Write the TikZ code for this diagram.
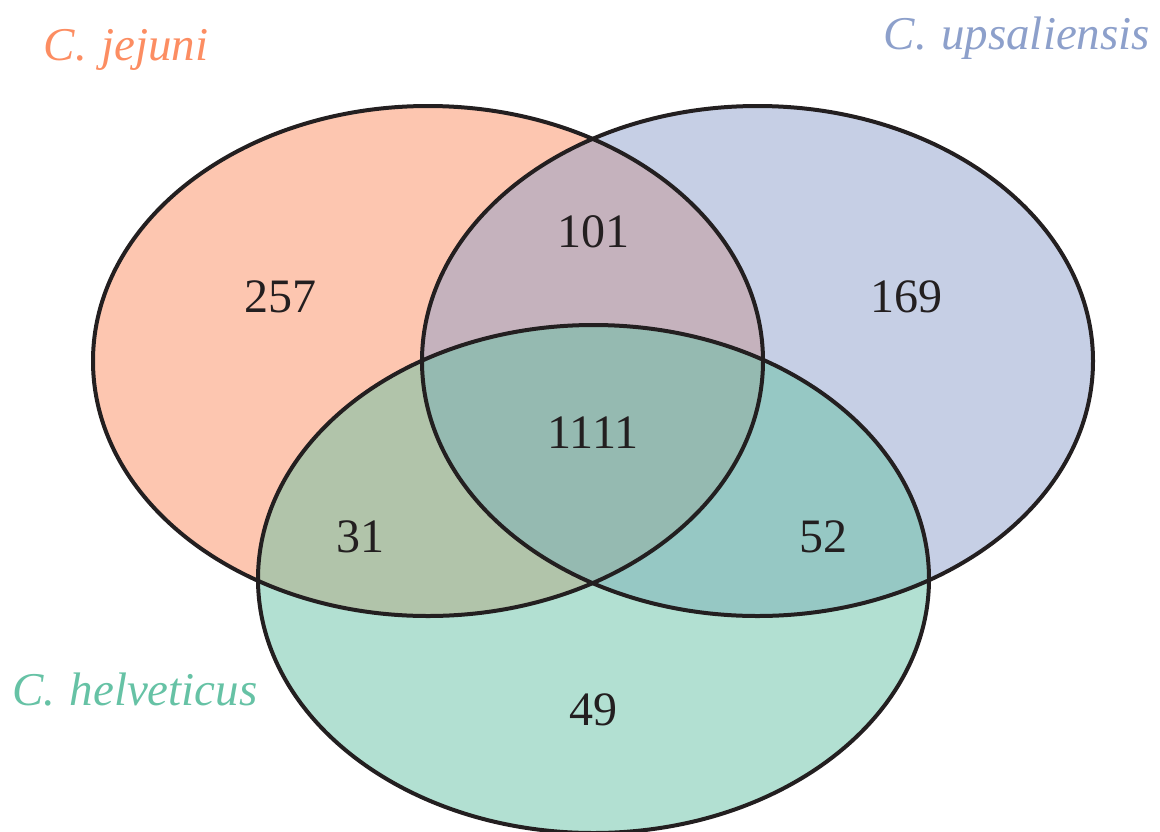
\documentclass[tikz,border=0pt]{standalone}
\usepackage{fontspec}
\setmainfont{Liberation Serif}
\definecolor{cjej}{HTML}{FC8D62}
\definecolor{cups}{HTML}{8DA0CB}
\definecolor{chel}{HTML}{66C2A5}
\definecolor{ink}{HTML}{231F20}
\begin{document}
\begin{tikzpicture}[x=1pt,y=-1pt,
  setfill/.style={fill opacity=0.5},
  setline/.style={draw=ink,line width=4pt},
  num/.style={text=ink,font=\fontsize{48}{52}\selectfont,inner sep=0pt},
  lab/.style={font=\fontsize{47}{52}\selectfont\itshape,inner sep=0pt}]
\useasboundingbox (0,0) rectangle (1160,831);
\fill[cjej,setfill] (428,361) ellipse [x radius=335, y radius=255];
\fill[cups,setfill] (757.5,361) ellipse [x radius=335.5, y radius=255];
\fill[chel,setfill] (593.5,579) ellipse [x radius=335.5, y radius=254];
\draw[setline] (428,361) ellipse [x radius=335, y radius=255];
\draw[setline] (757.5,361) ellipse [x radius=335.5, y radius=255];
\draw[setline] (593.5,579) ellipse [x radius=335.5, y radius=254];
\node[num] (n257) at (280,297) {257};
\node[num] (n101) at (593,232) {101};
\node[num] (n169) at (906,297) {169};
\node[num] (n1111) at (593,433) {1111};
\node[num] (n31) at (360,537) {31};
\node[num] (n52) at (823,537) {52};
\node[num] (n49) at (593,710) {49};
\node[lab,text=cjej] (ljej) at (126,50) {C.\hspace{0.3em}jejuni};
\node[lab,text=cups] (lups) at (1017,38) {C.\hspace{0.3em}upsaliensis};
\node[lab,text=chel] (lhel) at (135,690) {C.\hspace{0.3em}helveticus};
\end{tikzpicture}
\end{document}
